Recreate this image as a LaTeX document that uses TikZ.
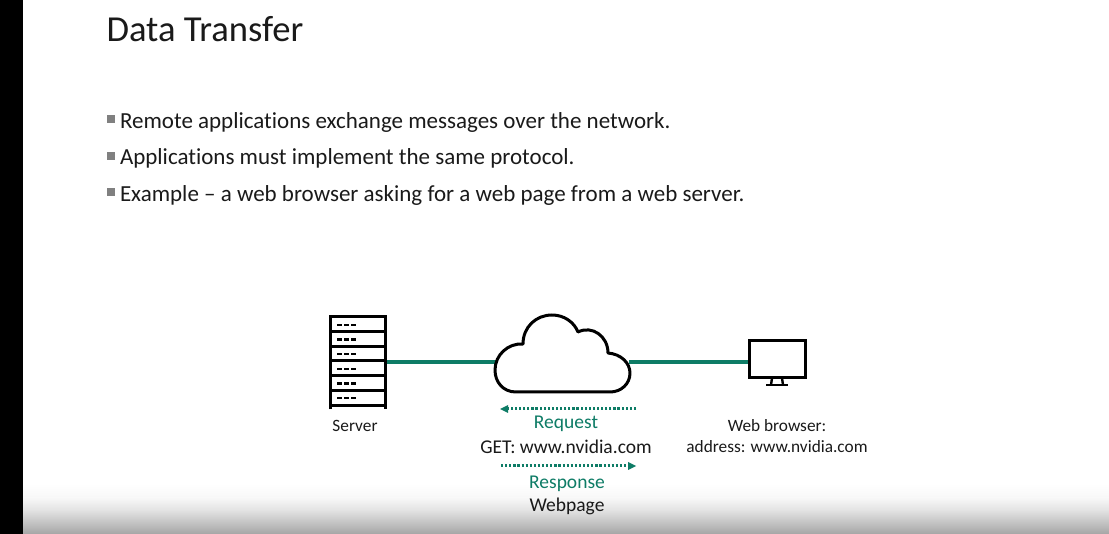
\documentclass[tikz,border=0pt]{standalone}
\usepackage{fontspec}
\setmainfont[RawFeature={-liga}]{Carlito}
\usetikzlibrary{arrows.meta}
\definecolor{nvgreen}{HTML}{0E7C66}
\definecolor{ink}{HTML}{1A1A1A}
\tikzset{
  x=1pt,y=-1pt,
  every node/.style={inner sep=0pt,outer sep=0pt,text=ink},
  bullettext/.style={anchor=base west,font=\fontsize{23}{26}\selectfont},
  bulletmark/.style={fill=black!50,minimum size=7.5pt},
  greenlabel/.style={font=\fontsize{19.5}{22}\selectfont,text=nvgreen},
  blacklabel/.style={font=\fontsize{19.5}{22}\selectfont},
  smalllabel/.style={font=\fontsize{17.3}{19}\selectfont},
  link/.style={draw=nvgreen,line width=4pt},
  flow/.style={draw=nvgreen,line width=3pt,dash pattern=on 2.2pt off 1.9pt},
  flowhead/.style={fill=nvgreen},
  icon/.style={draw=black,line width=3pt},
}
\begin{document}
\begin{tikzpicture}
\useasboundingbox (0,0) rectangle (1109,534);
\fill[white] (0,0) rectangle (1109,534);
% bottom fade
\shade[top color=white,bottom color=black!3] (23,484) rectangle (1109,498);
\shade[top color=black!3,bottom color=black!11] (23,498) rectangle (1109,510);
\shade[top color=black!11,bottom color=black!35] (23,510) rectangle (1109,534);
\fill[black] (0,0) rectangle (23,534);
% title and bullets
\node[anchor=base west,font=\fontsize{36.6}{40}\selectfont] (title) at (106.5,42) {Data Transfer};
\node[bulletmark] (b1) at (111,119) {};
\node[bulletmark] (b2) at (111,156) {};
\node[bulletmark] (b3) at (111,192) {};
\node[bullettext] (t1) at (120,128.5) {Remote applications exchange messages over the network.};
\node[bullettext] (t2) at (120,165) {Applications must implement the same protocol.};
\node[bullettext] (t3) at (120,201.5) {Example – a web browser asking for a web page from a web server.};
% anchors of the links
\coordinate (serverport) at (385,362);
\coordinate (cloudleft) at (496,362);
\coordinate (cloudright) at (629,362);
\coordinate (monitorport) at (748,362);
\draw[link] (serverport) -- (cloudleft);
\draw[link] (cloudright) -- (monitorport);
% server
\node[minimum width=55pt,minimum height=91pt] (server) at (357.5,363) {};
\draw[icon,line cap=butt] (330,409.5) -- (330,317) -- (385,317) -- (385,409.5);
\foreach \y in {332,346.5,361,376,391,406}
  \draw[icon] (330,\y) -- (385,\y);
\foreach \y in {325,339.5,354,369,383.5,398}
  \draw[black,line width=2.4pt,dash pattern=on 5pt off 2pt] (337,\y) -- (356,\y);
% cloud
\node[minimum width=135pt,minimum height=77pt] (cloud) at (562.5,353.5) {};
\draw[icon,fill=white,line join=round]
  (516,392) .. controls (503,392) and (495,382) .. (495,370)
  .. controls (495,355) and (508,343) .. (523,344)
  .. controls (523,327) and (536,315) .. (552,315)
  .. controls (564,315) and (574,322) .. (578,332)
  .. controls (592,325) and (608,336) .. (608,353)
  .. controls (621,354) and (630,363) .. (630,373)
  .. controls (630,384) and (621,392) .. (610,392)
  -- cycle;
% monitor
\node[icon,fill=white,minimum width=56pt,minimum height=36.5pt] (monitor) at (777,359) {};
\draw[black,line width=2.4pt] (772,378) -- (771,385) (782,378) -- (783,385);
\draw[black,line width=2.6pt] (766,385) -- (788,385);
% request arrow
\coordinate (reqstart) at (636,409);
\coordinate (reqend) at (507,409);
\coordinate (reqtip) at (500,409);
\draw[flow] (reqstart) -- (reqend);
\fill[flowhead] (reqtip) -- (508,405) -- (508,413) -- cycle;
% response arrow
\coordinate (respstart) at (501,466);
\coordinate (respend) at (628,466);
\coordinate (resptip) at (636,466);
\draw[flow] (respstart) -- (respend);
\fill[flowhead] (resptip) -- (628,462) -- (628,470) -- cycle;
% labels
\node[greenlabel] (request) at (566,424) {Request};
\node[blacklabel] (get) at (566,446.5) {GET: www.nvidia.com};
\node[greenlabel] (response) at (567,484) {Response};
\node[blacklabel] (webpage) at (567,506.5) {Webpage};
\node[smalllabel] (serverlabel) at (355,425.5) {Server};
\node[smalllabel] (browser) at (777,425.5) {Web browser:};
\node[smalllabel] (address) at (777,447) {address: www.nvidia.com};
\end{tikzpicture}
\end{document}
